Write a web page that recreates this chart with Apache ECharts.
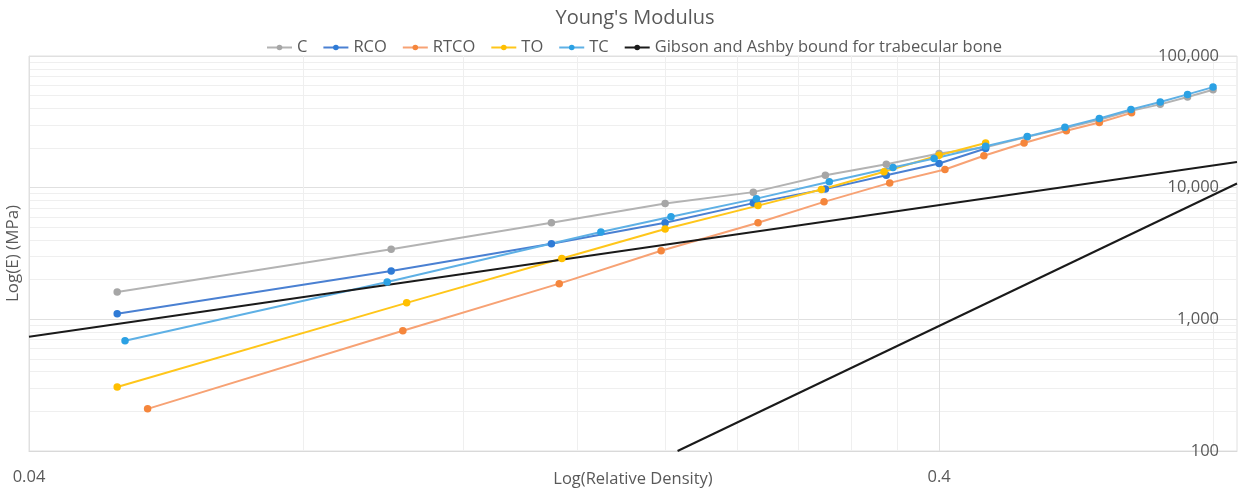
<!DOCTYPE html>
<html>
<head>
<meta charset="utf-8">
<script src="https://cdn.jsdelivr.net/npm/echarts@6/dist/echarts.min.js"></script>
<style>
html,body{margin:0;padding:0;background:#fff;}
#chart{width:1242px;height:488px;}
</style>
</head>
<body>
<div id="chart"></div>
<script>
// ---- data ----
const cDensity    = [0.05,0.10,0.15,0.20,0.25,0.30,0.35,0.40,0.45,0.50,0.55,0.60,0.65,0.70,0.75,0.80];
const cModulus    = [1616,3404,5412,7591,9249,12440,15070,18160,20300,24300,28230,32750,38300,42920,48750,55450];

const rcoDensity  = [0.05,0.10,0.15,0.20,0.25,0.30,0.35,0.40,0.45];
const rcoModulus  = [1101,2330,3750,5412,7632,9750,12430,15250,19820];

const rtcoDensity = [0.054,0.103,0.153,0.198,0.253,0.299,0.353,0.406,0.448,0.496,0.552,0.600,0.651];
const rtcoModulus = [209,818,1867,3322,5412,7805,10870,13730,17480,21850,27040,31240,36990];

const toDensity   = [0.05,0.104,0.154,0.20,0.253,0.297,0.348,0.40,0.45];
const toModulus   = [306,1334,2897,4850,7305,9690,13220,17630,21850];

const tcDensity   = [0.051,0.099,0.170,0.203,0.252,0.303,0.356,0.395,0.45,0.50,0.55,0.60,0.65,0.70,0.75,0.80];
const tcModulus   = [687,1924,4603,6010,8253,11100,14220,16670,20630,24500,28730,33500,39190,44670,51090,58030];

const gaLine1Density = [0.04, 0.85];
const gaLine1Modulus = [737, 15690];
const gaLine2Density = [0.2064, 0.85];
const gaLine2Modulus = [100, 10760];

const xTickLabels = [0.04, 0.4];
const xGridValues = [0.04,0.08,0.12,0.16,0.20,0.24,0.28,0.32,0.36,0.40,0.80];
const yTickLabels = [100, 1000, 10000, 100000];
const yGridValues = [100,200,300,400,500,600,700,800,900,
                     1000,2000,3000,4000,5000,6000,7000,8000,9000,
                     10000,20000,30000,40000,50000,60000,70000,80000,90000,100000];

const GA_NAME = 'Gibson and Ashby bound for trabecular bone';

function pairs(xs, ys){ return xs.map((x,i)=>[x, ys[i]]); }

const FONT = '"Open Sans", "Noto Sans", sans-serif';
const TXT = '#595959';
const GRID_COLORS = ['#e0e0e0','#efefef','#efefef','#efefef','#efefef','#efefef','#efefef','#efefef','#efefef'];

function dataSeries(name, xs, ys, lineColor, markColor){
  return {
    name: name, type: 'line', data: pairs(xs, ys),
    symbol: 'circle', symbolSize: 7.5, showSymbol: true,
    lineStyle: {color: lineColor, width: 2},
    itemStyle: {color: markColor},
    emphasis: {disabled: true},
    animation: false
  };
}

const chart = echarts.init(document.getElementById('chart'), null, {renderer: 'canvas'});
chart.setOption({
  backgroundColor: '#ffffff',
  animation: false,
  title: {
    text: "Young's Modulus", left: 635, textAlign: 'center', top: 8, padding: 0,
    textStyle: {fontFamily: FONT, fontSize: 20, fontWeight: 'normal', color: TXT}
  },
  legend: {
    top: 39, left: 266, padding: 0, itemGap: 15, itemWidth: 25, itemHeight: 7,
    textStyle: {fontFamily: FONT, fontSize: 16.5, color: TXT},
    data: ['C','RCO','RTCO','TO','TC',GA_NAME]
  },
  grid: {left: 29, right: 5, top: 56, bottom: 37, outerBoundsMode: 'none', containLabel: false,
         show: true, borderColor: '#e0e0e0', borderWidth: 1},
  xAxis: {
    type: 'log', logBase: 10, min: 0.04, max: 0.85,
    name: 'Log(Relative Density)', nameLocation: 'middle', nameGap: 20, nameMoveOverlap: false,
    nameTextStyle: {fontFamily: FONT, fontSize: 16.5, color: TXT, verticalAlign: 'top'},
    axisLine: {show: true, lineStyle: {color: '#d9d9d9'}},
    axisTick: {show: false, customValues: xGridValues},
    axisLabel: {customValues: xTickLabels, margin: 18, fontFamily: FONT, fontSize: 16.5, color: TXT,
                formatter: v => String(+v.toPrecision(6))},
    splitLine: {show: true, lineStyle: {color: GRID_COLORS, width: 1}}
  },
  yAxis: [{
    type: 'log', logBase: 10, min: 100, max: 100000, position: 'right',
    axisLine: {show: false},
    axisTick: {show: false, customValues: yGridValues},
    axisLabel: {inside: true, customValues: yTickLabels, margin: 18, fontFamily: FONT, fontSize: 16.5, color: TXT,
                formatter: v => Math.round(v).toLocaleString('en-US')},
    splitLine: {show: true, lineStyle: {color: GRID_COLORS, width: 1}}
  },{
    type: 'log', logBase: 10, min: 100, max: 100000, position: 'left',
    name: 'Log(E) (MPa)', nameLocation: 'middle', nameGap: 7, nameMoveOverlap: false,
    nameTextStyle: {fontFamily: FONT, fontSize: 17, color: TXT},
    axisLine: {show: false}, axisTick: {show: false}, axisLabel: {show: false}, splitLine: {show: false}
  }],
  series: [
    dataSeries('C', cDensity, cModulus, '#b3b3b3', '#a6a6a6'),
    dataSeries('RCO', rcoDensity, rcoModulus, '#4a80d2', '#2f7bd6'),
    dataSeries('RTCO', rtcoDensity, rtcoModulus, '#f7a274', '#f5863c'),
    dataSeries('TO', toDensity, toModulus, '#ffc61a', '#ffbf00'),
    dataSeries('TC', tcDensity, tcModulus, '#5eb0e5', '#2ba1e4'),
    {
      name: GA_NAME, type: 'line', data: pairs(gaLine1Density, gaLine1Modulus),
      symbol: 'circle', symbolSize: 7.5, showSymbol: false,
      lineStyle: {color: '#1a1a1a', width: 2}, itemStyle: {color: '#1a1a1a'},
      emphasis: {disabled: true}, animation: false
    },
    {
      name: GA_NAME, type: 'line', data: pairs(gaLine2Density, gaLine2Modulus),
      symbol: 'circle', symbolSize: 7.5, showSymbol: false,
      lineStyle: {color: '#1a1a1a', width: 2}, itemStyle: {color: '#1a1a1a'},
      emphasis: {disabled: true}, animation: false
    }
  ]
});
</script>
</body>
</html>
